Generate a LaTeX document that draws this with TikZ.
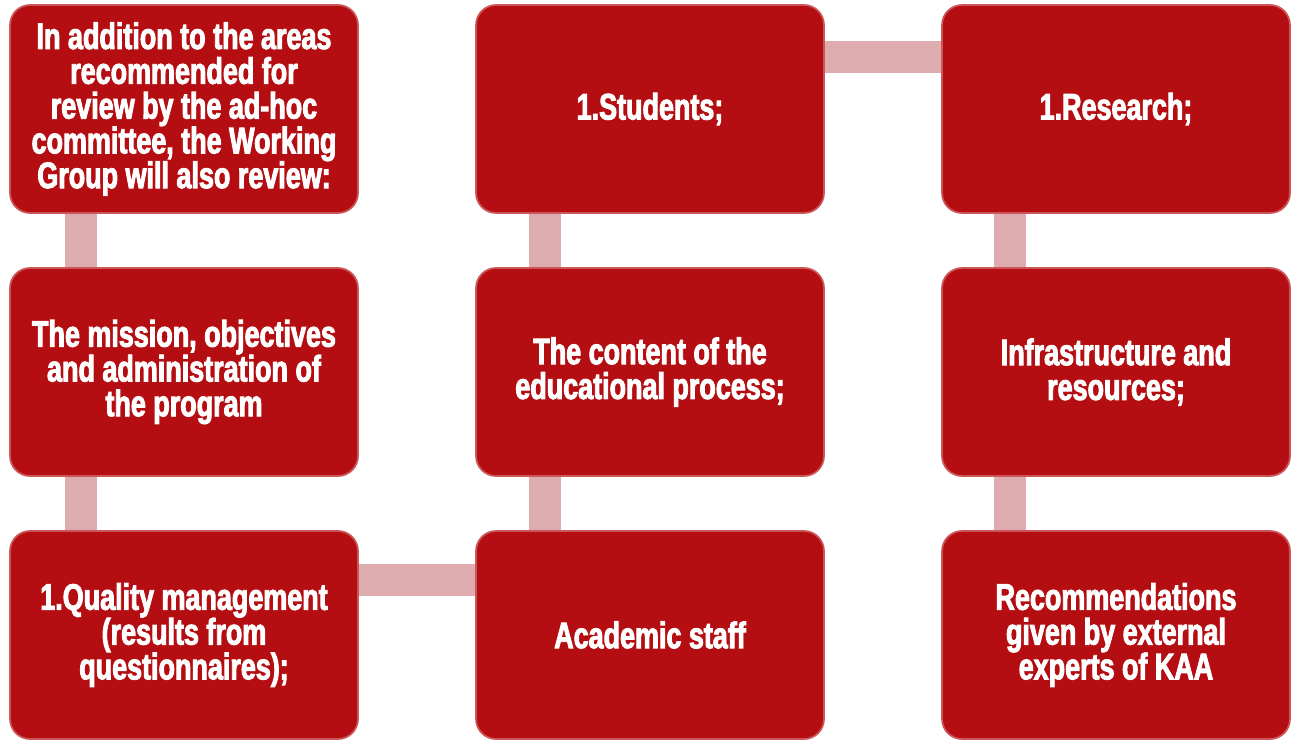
\documentclass[tikz,border=0pt]{standalone}
\usepackage{fontspec}
\setmainfont{Liberation Sans}[BoldFont={Liberation Sans Bold}, BoldFeatures={FakeStretch=0.73, FakeBold=2.5}]
\usetikzlibrary{backgrounds}

\definecolor{boxred}{RGB}{181,14,18}
\definecolor{linkpink}{RGB}{222,172,175}

\tikzset{
    box/.style={rectangle, rounded corners=0.4cm, fill=boxred, draw=boxred!70!white,
        line width=1pt, minimum width=6.96cm, minimum height=4.16cm, align=center,
        text=white, font=\bfseries\fontsize{21}{19.8}\selectfont},
    link/.style={linkpink, line width=0.64cm},
}

\begin{document}
\begin{tikzpicture}[x=0.02cm, y=-0.02cm]
    \useasboundingbox (0,0) rectangle (1294,740);

    % Column 1
    \node[box] (intro) at (184,109) {In addition to the areas\\recommended for\\review by the ad-hoc\\committee, the Working\\Group will also review:};
    \node[box] (mission) at (184,372) {The mission, objectives\\and administration of\\the program};
    \node[box] (quality) at (184,635) {1.Quality management\\(results from\\questionnaires);};

    % Column 2
    \node[box] (students) at (650,109) {1.Students;};
    \node[box] (content) at (650,372) {The content of the\\educational process;};
    \node[box] (staff) at (650,635) {Academic staff};

    % Column 3
    \node[box] (research) at (1116,109) {1.Research;};
    \node[box] (infra) at (1116,372) {Infrastructure and\\resources;};
    \node[box] (experts) at (1116,635) {Recommendations\\given by external\\experts of KAA};

    % Connectors
    \begin{scope}[on background layer]
        \draw[link] ([xshift=-2.06cm]intro.south) -- ([xshift=-2.06cm]mission.north);
        \draw[link] ([xshift=-2.06cm]mission.south) -- ([xshift=-2.06cm]quality.north);
        \draw[link] ([yshift=1.1cm]quality.east) -- ([yshift=1.1cm]staff.west);
        \draw[link] ([xshift=-2.1cm]staff.north) -- ([xshift=-2.1cm]content.south);
        \draw[link] ([xshift=-2.1cm]content.north) -- ([xshift=-2.1cm]students.south);
        \draw[link] ([yshift=1.04cm]students.east) -- ([yshift=1.04cm]research.west);
        \draw[link] ([xshift=-2.12cm]research.south) -- ([xshift=-2.12cm]infra.north);
        \draw[link] ([xshift=-2.12cm]infra.south) -- ([xshift=-2.12cm]experts.north);
    \end{scope}
\end{tikzpicture}
\end{document}
